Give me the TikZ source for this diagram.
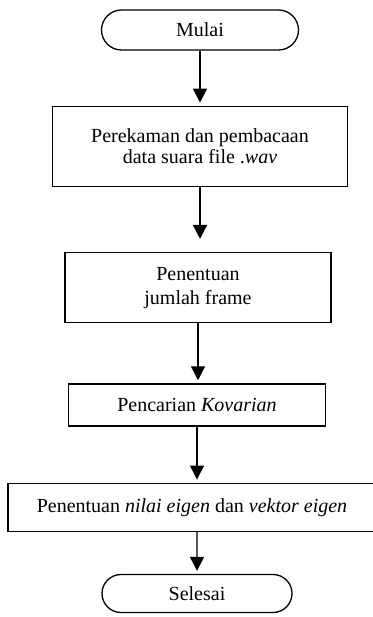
\documentclass[tikz,border=0pt]{standalone}
\usepackage{fontspec}
\setmainfont{Liberation Serif}
\usetikzlibrary{positioning,shapes.misc,arrows.meta}
\tikzstyle{terminal} = [rounded rectangle,
draw=black, line width=1.3pt,
inner sep=0pt]
\tikzstyle{process} = [rectangle, draw=black, line width=1.3pt,
align=center, inner sep=0pt]
\tikzstyle{arrow} = [-{Triangle[width=14pt,length=14pt]}, line width=1.3pt, shorten >=3pt]

\begin{document}
\begin{tikzpicture}[x=1pt, y=1pt,
    font=\fontsize{20}{24}\selectfont,
  ]
    \useasboundingbox (0,0) rectangle (372,-617);

    \node[terminal, minimum width=197pt, minimum height=40pt] (mulai) at (200,-30) {Mulai};
    \node[process, below=55pt of mulai, minimum width=295pt, minimum height=80pt] (rekam)
        {Perekaman dan pembacaan\\[-3pt]data suara file .\textit{wav}};
    \node[process, below=65pt of rekam, xshift=-2pt, minimum width=266pt, minimum height=70pt] (frame)
        {Penentuan\\jumlah frame};
    \node[process, below=60pt of frame, xshift=-1pt, minimum width=257pt, minimum height=42pt] (kov)
        {Pencarian \textit{Kovarian}};
    \node[process, below=56pt of kov, xshift=-5pt, minimum width=368pt, minimum height=48pt] (eigen)
        {Penentuan \textit{nilai eigen} dan \textit{vektor eigen}};
    \node[terminal, below=42pt of eigen, xshift=5pt, minimum width=190pt, minimum height=38pt] (selesai)
        {Selesai};

    \draw[arrow] (mulai.south) -- (mulai.south |- rekam.north);
    \draw[arrow, shorten >=13pt] (rekam.south) -- (rekam.south |- frame.north);
    \draw[arrow] (frame.south) -- (frame.south |- kov.north);
    \draw[arrow] (kov.south) -- (kov.south |- eigen.north);
    \draw[arrow] (selesai.north |- eigen.south) -- (selesai);
\end{tikzpicture}
\end{document}
